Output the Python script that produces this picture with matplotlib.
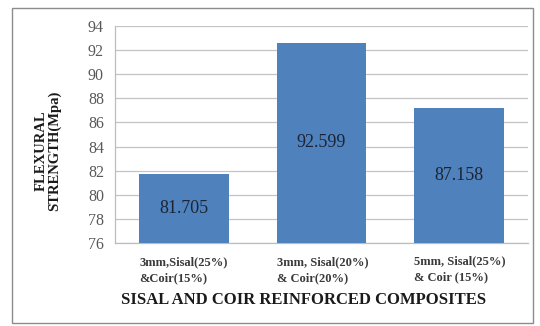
import matplotlib.pyplot as plt
from matplotlib.patches import Rectangle

# flexural strength of the three composite mixes
categories = ["3mm,Sisal(25%)\n&Coir(15%)",
              "3mm, Sisal(20%)\n& Coir(20%)",
              "5mm, Sisal(25%)\n& Coir (15%)"]
strength = [81.705, 92.599, 87.158]
yticks = list(range(76, 95, 2))

W, H = 540, 326
fig = plt.figure(figsize=(W / 100, H / 100), dpi=100)
serif = "Liberation Serif"

# plot area in pixel terms
left, right, top, bottom = 115, 528, 26, 243
ax = fig.add_axes([left / W, 1 - bottom / H, (right - left) / W, (bottom - top) / H])

x = range(len(strength))
bars = ax.bar(x, [v - 76 for v in strength], bottom=76, width=0.65,
              color="#4F81BD", zorder=3)
for xi, v in zip(x, strength):
    ax.text(xi, (76 + v) / 2, f"{v:.3f}", ha="center", va="center",
            fontsize=13, family=serif, color="#1c2433", zorder=4)

ax.set_xlim(-0.5, 2.5)
ax.set_ylim(76, 94)
ax.set_yticks(yticks)
ax.set_yticklabels([str(t) for t in yticks], family=serif, fontsize=11.5, color="#595959")
ax.tick_params(axis="y", length=0, pad=8)
ax.tick_params(axis="x", length=0)
ax.set_xticks([])
ax.grid(axis="y", color="#c4c4c4", linewidth=0.9, zorder=0)
for s in ["top", "right"]:
    ax.spines[s].set_visible(False)
for s in ["left", "bottom"]:
    ax.spines[s].set_color("#bdbdbd")
    ax.spines[s].set_linewidth(0.9)

# category labels, left-aligned under each bar
for xi, lab in zip(x, categories):
    top_px = 256 if xi < 2 else 255
    fig.text((left + (xi + 0.5 - 0.325) * (right - left) / 3) / W, 1 - top_px / H, lab,
             ha="left", va="top", fontsize=9, family=serif, fontweight="bold",
             color="#3a3a3a", linespacing=1.45)

fig.text(304 / W, 1 - 300 / H, "SISAL AND COIR REINFORCED COMPOSITES",
         ha="center", va="center", fontsize=12, family=serif, fontweight="bold",
         color="#1a1a1a")
fig.text(48 / W, 1 - 151 / H, "FLEXURAL\nSTRENGTH(Mpa)", rotation=90,
         ha="center", va="center", fontsize=10.5, family=serif, fontweight="bold",
         color="#1a1a1a", linespacing=1.0)

# chart frame
fig.patches.append(Rectangle((12 / W, 1 - 323 / H), (533 - 12) / W, (323 - 8) / H,
                             transform=fig.transFigure, fill=False,
                             edgecolor="#8c8c8c", linewidth=1.0))

fig.savefig("out.png", dpi=100)
